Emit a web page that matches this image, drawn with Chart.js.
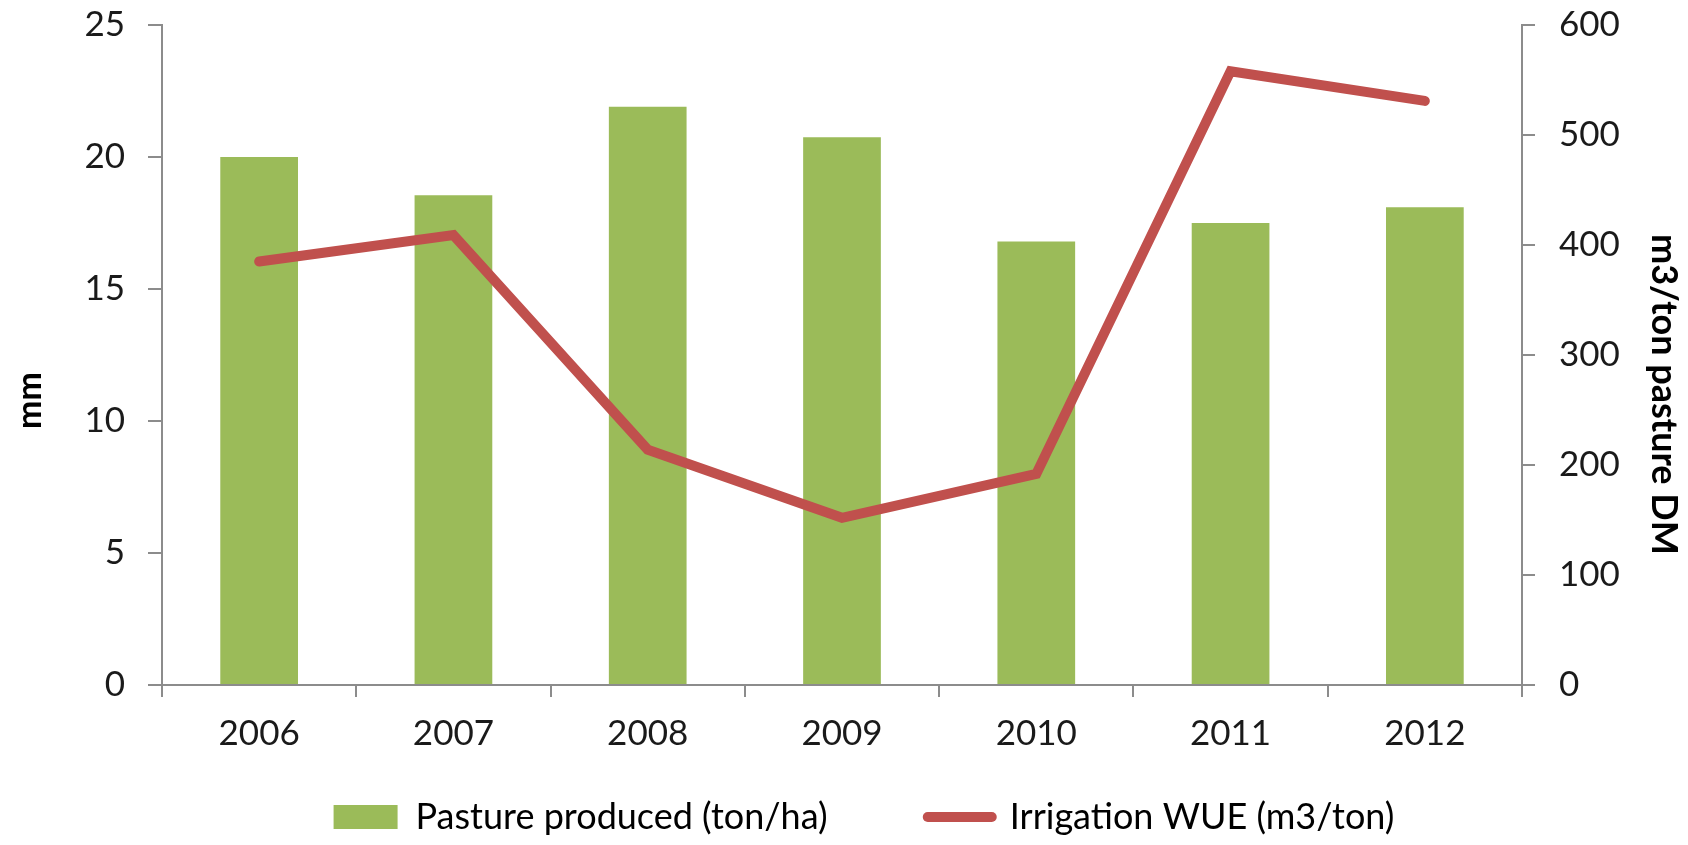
<!DOCTYPE html>
<html>
<head>
<meta charset="utf-8">
<script src="https://cdn.jsdelivr.net/npm/chart.js@4"></script>
<style>
  html, body { margin: 0; padding: 0; background: #fff; }
</style>
</head>
<body>
<canvas id="myChart" width="1688" height="845"></canvas>
<script>
// data
const years = ['2006', '2007', '2008', '2009', '2010', '2011', '2012'];
const pasture = [20.0, 18.55, 21.9, 20.75, 16.8, 17.5, 18.1];   // ton/ha (left axis)
const wue = [385, 409, 214, 152, 192, 558, 531];               // m3/ton (right axis)
const leftTicks = [0, 5, 10, 15, 20, 25];
const rightTicks = [0, 100, 200, 300, 400, 500, 600];

const green = '#9BBB59';
const red = '#C0504D';
const axisGrey = '#8c8c8c';
const textCol = '#1a1a1a';
const nb = n => '\u00a0'.repeat(n);

Chart.defaults.font.family = 'Lato, "Open Sans", sans-serif';
Chart.defaults.color = textCol;

// the legend row sits a little right of centre in the original
const legendNudge = {
    id: 'legendNudge',
    afterLayout: chart => {
        chart.legend.left += 20;
        chart.legend.right += 20;
    }
};

const ctx = document.getElementById('myChart');

new Chart(ctx, {
    type: 'bar',
    data: {
        labels: years,
        datasets: [{
            type: 'line',
            label: 'Irrigation WUE (m3/ton)',
            data: wue,
            yAxisID: 'y1',
            borderColor: red,
            backgroundColor: red,
            borderWidth: 10,
            borderCapStyle: 'round',
            borderJoinStyle: 'miter',
            tension: 0,
            pointRadius: 0,
            pointHoverRadius: 0,
            pointStyle: 'line',
            pointBorderColor: red,
            pointBorderWidth: 10
        }, {
            label: 'Pasture produced (ton/ha)',
            data: pasture,
            yAxisID: 'y',
            backgroundColor: green,
            borderWidth: 0,
            categoryPercentage: 1,
            barPercentage: 0.4,
            pointStyle: 'rect'
        }]
    },
    plugins: [legendNudge],
    options: {
        responsive: false,
        animation: false,
        devicePixelRatio: 1,
        layout: { padding: { top: 25, left: 0, right: 0, bottom: 0 } },
        plugins: {
            tooltip: { enabled: false },
            legend: {
                position: 'bottom',
                reverse: true,
                labels: {
                    usePointStyle: true,
                    pointStyleWidth: 64,
                    boxHeight: 24,
                    padding: 8,
                    color: '#000',
                    font: { size: 36 },
                    generateLabels: chart => {
                        const items = Chart.defaults.plugins.legend.labels.generateLabels(chart);
                        items.forEach(it => {
                            if (it.datasetIndex === 0) {
                                it.lineWidth = 10;
                                it.lineCap = 'round';
                                it.strokeStyle = red;
                            } else {
                                it.text = it.text + nb(10);
                            }
                        });
                        return items;
                    }
                }
            }
        },
        scales: {
            x: {
                grid: {
                    offset: true,
                    drawOnChartArea: false,
                    tickLength: 12,
                    color: axisGrey,
                    lineWidth: 2
                },
                border: { color: axisGrey, width: 2 },
                ticks: { padding: 16, font: { size: 35 }, color: textCol },
                afterFit: s => { s.height = 106; }
            },
            y: {
                position: 'left',
                min: 0,
                max: 25,
                afterBuildTicks: s => { s.ticks = leftTicks.map(v => ({ value: v })); },
                grid: {
                    drawOnChartArea: false,
                    tickLength: 14,
                    color: axisGrey,
                    lineWidth: 2
                },
                border: { color: axisGrey, width: 2 },
                ticks: { padding: 23, font: { size: 35 }, color: textCol },
                title: {
                    display: true,
                    text: 'mm' + nb(11),
                    color: '#000',
                    font: { size: 34, weight: 'bold' },
                    padding: { top: 10, bottom: 0 }
                },
                afterFit: s => { s.width = 162; s.paddingTop = 0; s.paddingBottom = 0; }
            },
            y1: {
                position: 'right',
                min: 0,
                max: 600,
                afterBuildTicks: s => { s.ticks = rightTicks.map(v => ({ value: v })); },
                grid: {
                    drawOnChartArea: false,
                    tickLength: 13,
                    color: axisGrey,
                    lineWidth: 2
                },
                border: { color: axisGrey, width: 2 },
                ticks: { padding: 24, font: { size: 35 }, color: textCol },
                title: {
                    display: true,
                    text: nb(9) + 'm3/ton pasture DM',
                    color: '#000',
                    font: { size: 36, weight: 'bold' },
                    padding: { top: 3, bottom: 0 }
                },
                afterFit: s => { s.width = 166; s.paddingTop = 0; s.paddingBottom = 0; }
            }
        }
    }
});
</script>
</body>
</html>
